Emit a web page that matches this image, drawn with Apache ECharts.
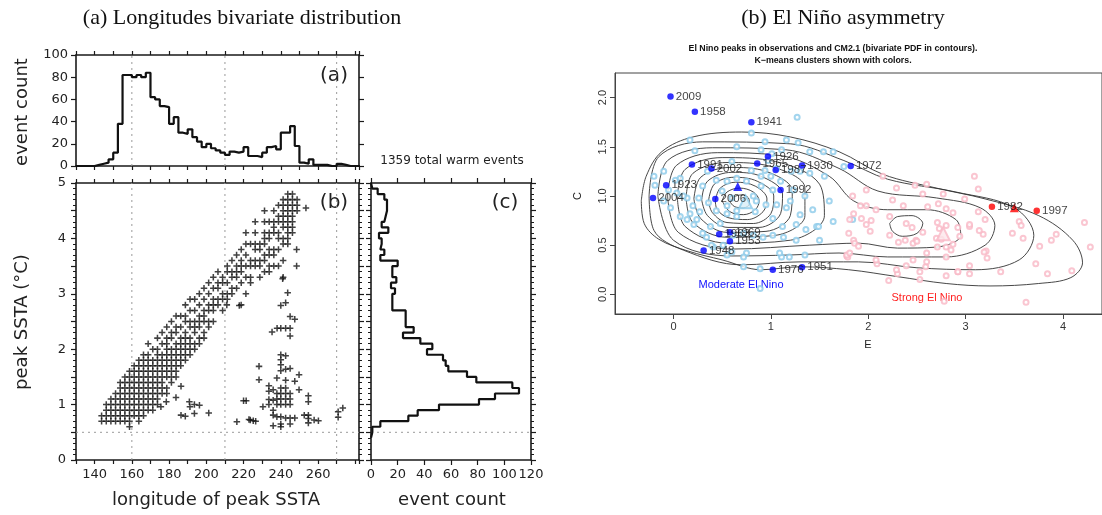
<!DOCTYPE html>
<html><head><meta charset="utf-8">
<script src="https://cdn.jsdelivr.net/npm/echarts@6/dist/echarts.min.js"></script>
<style>html,body{margin:0;padding:0;background:#fff}#c{width:1102px;height:515px}</style>
</head><body><div id="c"></div>
<script>
// ---------- (a) longitude histogram: 2.5 deg bins starting at 132.5E ----------
const lonBinStart = 132.5, lonBinWidth = 2.5;
const lonCounts = [0,0,0,1,2,3,6,12,38,82,82,80,82,80,84,62,60,54,53,38,44,30,29,33,26,22,17,20,16,14,12,10,13,12,13,17,9,9,8,12,17,18,15,30,30,36,18,3,2,6,1,1,1,0,0,2,1,0,0,0];
const lonTickLabels = [140,160,180,200,220,240,260];
const refLons = [160,210,270];
const refSSTA = 0.5;
// ---------- (c) peak SSTA histogram: 0.1 degC bins from 5.0 downward ----------
const sstaBinTop = 5.0, sstaBinWidth = 0.1;
const sstaCounts = [1,5,10,12,12,11,10,8,13,6,8,7,10,7,20,16,16,19,15,18,16,16,16,26,26,26,32,24,37,46,42,54,56,58,72,79,106,111,93,81,51,35,28,7,1,0];
// ---------- (b) scatter: columns on the 2.5-deg bin centres [binIndex, SSTA values] ----------
const peakColumns = [
 [4,[0.7,0.8]],[5,[0.7,0.8,0.9,1.0]],[6,[0.7,0.8,0.9,1.0,1.1]],[7,[0.7,0.8,0.9,1.0,1.1,1.2]],
 [8,[0.7,0.8,0.9,1.0,1.1,1.2,1.3,1.4]],[9,[0.7,0.8,0.9,1.0,1.1,1.2,1.3,1.4,1.5]],
 [10,[0.6,0.7,0.8,0.9,1.0,1.1,1.2,1.3,1.4,1.5,1.6]],[11,[0.8,0.9,1.0,1.1,1.2,1.3,1.4,1.5,1.6,1.7]],
 [12,[0.7,0.8,0.9,1.0,1.1,1.2,1.3,1.4,1.5,1.6,1.7,1.8]],[13,[0.8,0.9,1.0,1.1,1.2,1.3,1.4,1.5,1.6,1.7,1.8,1.9]],
 [14,[0.9,1.0,1.1,1.2,1.3,1.4,1.5,1.6,1.7,1.8,1.9,2.1]],[15,[0.9,1.0,1.1,1.2,1.3,1.4,1.5,1.6,1.7,1.8,2.0]],
 [16,[1.0,1.1,1.2,1.3,1.4,1.5,1.6,1.7,1.8,1.9,2.0,2.2]],[17,[1.2,1.3,1.4,1.5,1.6,1.7,1.8,1.9,2.1,2.3]],
 [18,[1.2,1.3,1.5,1.6,1.7,1.8,1.9,2.0,2.1,2.2,2.4]],[19,[1.4,1.5,1.6,1.7,1.8,1.9,2.0,2.2,2.3,2.5]],
 [20,[1.5,1.6,1.7,1.8,1.9,2.0,2.1,2.3,2.4,2.6]],[21,[1.7,1.8,1.9,2.0,2.1,2.2,2.4,2.6]],
 [22,[1.8,1.9,2.0,2.1,2.2,2.3,2.5,2.6,2.8]],[23,[1.9,2.0,2.1,2.2,2.4,2.5,2.7,2.9]],
 [24,[2.0,2.1,2.3,2.4,2.5,2.7,2.9]],[25,[2.1,2.2,2.4,2.5,2.6,2.8,3.0]],
 [26,[2.2,2.3,2.5,2.6,2.7,2.9,3.1]],[27,[2.4,2.5,2.7,2.8,3.0,3.2]],
 [28,[2.5,2.7,2.8,2.9,3.1,3.3]],[29,[2.8,2.9,3.1,3.2,3.4]],
 [30,[2.7,2.9,3.0,3.2,3.3]],[31,[2.9,3.0,3.2,3.4,3.5]],
 [32,[3.0,3.1,3.3,3.4,3.6]],[33,[3.1,3.3,3.4,3.5,3.7]],
 [34,[3.2,3.4,3.5,3.6,3.8]],[35,[3.0,3.3,3.5,3.7,3.9,4.1]],
 [36,[3.2,3.3,3.5,3.6,3.9]],[37,[3.5,3.6,3.8,3.9,4.1,4.3]],
 [38,[3.3,3.5,3.6,3.8,3.9]],[39,[3.4,3.6,3.7,3.9,4.0,4.1,4.3,4.5]],
 [40,[3.4,3.5,3.7,3.8,4.0,4.1,4.3]],[41,[3.5,3.7,3.8,4.1,4.2,4.3,4.5]],
 [42,[3.5,3.8,4.0,4.1,4.3,4.4,4.6]],[43,[3.3,3.6,3.9,4.0,4.2,4.3,4.4,4.5,4.6,4.7]],
 [44,[3.9,4.0,4.1,4.2,4.3,4.4,4.5,4.6,4.7,4.8]],[45,[4.1,4.2,4.3,4.4,4.5,4.6,4.7,4.8]],
 [46,[4.5,4.6,4.7]]
];
const peakOutliers = [
 [175.6,0.96],[183.7,1.13],[186.4,1.33],[190.9,1.05],[193.6,1.0],[196.3,0.99],[191.2,0.96],[186.4,0.81],[188.7,0.79],
 [193.6,0.84],[201.3,0.85],[216.4,0.69],[221.4,1.07],[223.6,0.72],[226.5,0.70],[228.3,1.69],[228.3,1.45],[178.5,1.05],
 [211,2.8],[218.7,2.8],[217.7,2.79],[240.0,2.79],[242.6,2.84],[245,2.59],[247.5,2.54],[238,2.38],[240,2.38],[242.6,2.38],
 [245,2.38],[235.3,2.31],[245,2.24],[240,1.9],[242.6,1.88],[240,1.81],[240,1.72],[240,1.61],[242.6,1.64],[245,1.65],
 [249.8,1.54],[237.9,1.48],[242.6,1.44],[247.5,1.42],[233.6,1.34],[235.9,1.27],[233.6,1.24],[240,1.3],[240,1.2],
 [240,1.1],[240,1.0],[242.6,1.3],[242.6,1.2],[242.6,1.1],[242.6,1.0],[245,1.2],[245,1.1],[245,1.0],[249.8,1.27],
 [237.9,1.2],[237.9,1.1],[237.9,1.0],[254.8,1.16],[254.8,1.05],[220,1.07],[230.4,0.96],[233.6,1.09],[233.6,1.0],
 [235.9,1.08],[235.9,0.9],[235.9,0.81],[237.9,0.78],[240,0.78],[242.6,0.76],[245,0.76],[247.5,0.76],[252.6,0.81],
 [254.8,0.81],[254.8,0.75],[257.9,0.72],[260.2,0.71],[254.8,0.67],[222.9,0.73],[225.2,0.71],[235.9,0.62],[240,0.6],
 [240,0.65],[245,0.65],[270.8,0.87],[273.3,0.94],[270.8,0.77],[253.5,4.55],[248.5,3.8],[248.5,3.5],[243.7,3.02],[241,3.27]
];
// ---------- (b) El Nino asymmetry ----------
const eTicks = [0,1,2,3,4];
const cTicks = [0,0.5,1,1.5,2];
const modYears = ['2009','1958','1941','1926','1965','1930','1987','1991','2002','1923','2004','2006','1992','1969','1963','1953','1948','1976','1951','1972'];
const modE = [-0.03,0.22,0.80,0.97,0.86,1.32,1.05,0.19,0.39,-0.075,-0.21,0.43,1.10,0.58,0.47,0.58,0.31,1.02,1.32,1.82];
const modC = [2.01,1.855,1.75,1.40,1.33,1.31,1.265,1.32,1.28,1.11,0.98,0.97,1.06,0.63,0.61,0.54,0.445,0.25,0.275,1.305];
const strongYears = ['1982','1997'];
const strongE = [3.27,3.73];
const strongC = [0.89,0.85];
const modCentroid = [0.66,1.095];
const strongCentroid = [3.50,0.88];
const modModelCentroid = [0.74,0.94];
const strongModelCentroid = [2.77,0.615];
const modModelPts = [[1.27,1.80],[0.80,1.64],[0.94,1.55],[1.16,1.57],[1.28,1.54],[0.17,1.57],[0.22,1.46],[0.65,1.5],[0.90,1.47],[1.01,1.43],[1.11,1.47],[1.40,1.45],[1.54,1.45],[1.64,1.45],[-0.20,1.20],[-0.10,1.25],[0.02,1.16],[0.07,1.18],[-0.19,1.11],[-0.05,1.06],[0.035,1.03],[0.14,0.98],[0.26,0.98],[0.36,0.93],[0.44,1.16],[0.55,1.15],[0.65,1.18],[0.75,1.15],[0.80,1.26],[0.94,1.26],[0.97,1.36],[1.06,1.28],[1.21,1.25],[1.30,1.25],[1.40,1.23],[1.23,1.06],[1.02,1.06],[0.90,1.10],[0.82,1.0],[0.95,0.91],[1.06,0.91],[1.16,0.88],[1.30,0.81],[1.43,0.86],[1.64,0.74],[1.84,0.76],[1.47,0.69],[1.36,0.66],[1.12,0.69],[1.02,0.77],[0.84,0.84],[0.65,0.79],[0.55,0.82],[0.44,0.85],[0.27,0.84],[0.17,0.82],[0.07,0.79],[-0.03,0.88],[0.10,1.0],[0.24,0.76],[0.38,0.69],[0.48,0.72],[0.61,0.60],[0.72,0.62],[0.82,0.60],[0.92,0.58],[1.02,0.60],[1.13,0.58],[1.26,0.55],[0.51,0.50],[0.41,0.48],[0.34,0.58],[0.72,0.28],[0.89,0.26],[1.11,0.38],[1.19,0.38],[1.35,0.40],[0.75,0.42],[0.55,0.40],[0.14,0.76],[0.21,0.71],[0.39,0.50],[0.60,0.43],[0.72,0.38],[0.89,0.06],[1.09,0.42],[1.49,0.69],[1.26,0.71],[0.5,1.05],[0.6,0.98],[0.55,0.9],[0.65,0.85],[0.85,0.95],[0.9,1.2],[0.3,1.1],[0.35,1.25],[0.6,1.35],[1.0,1.2],[1.1,1.15],[1.2,0.95],[1.35,1.0],[1.55,1.2],[1.6,0.95],[1.75,1.3],[1.5,0.55],[0.3,0.62],[0.2,0.9],[-0.1,0.95]];
const strongModelPts = [[2.15,1.20],[3.09,1.20],[3.13,1.07],[2.48,1.11],[2.60,1.12],[2.29,1.08],[1.98,1.06],[1.84,1.0],[2.56,1.02],[2.77,1.02],[2.99,0.97],[2.25,0.96],[1.92,0.90],[1.98,0.90],[2.36,0.90],[2.61,0.89],[2.72,0.92],[2.80,0.87],[2.87,0.83],[3.13,0.84],[3.20,0.76],[2.08,0.86],[1.81,0.76],[1.93,0.77],[2.03,0.75],[2.22,0.79],[1.85,0.82],[2.39,0.72],[2.45,0.68],[2.56,0.63],[2.71,0.73],[2.73,0.67],[2.80,0.70],[2.92,0.68],[3.04,0.69],[2.94,0.59],[3.18,0.61],[3.14,0.65],[3.55,0.74],[3.57,0.70],[3.59,0.57],[3.48,0.62],[3.76,0.49],[3.88,0.55],[3.93,0.61],[4.22,0.73],[4.28,0.48],[3.72,0.31],[3.84,0.21],[4.09,0.24],[3.62,-0.08],[3.36,0.23],[3.21,0.44],[3.04,0.29],[2.92,0.23],[2.80,0.19],[2.59,0.28],[2.46,0.35],[2.53,0.15],[2.39,0.29],[2.30,0.21],[2.21,0.14],[2.09,0.31],[1.78,0.39],[1.79,0.38],[2.22,0.60],[2.31,0.53],[2.49,0.55],[2.38,0.55],[2.80,0.48],[2.85,0.45],[2.71,0.48],[2.80,0.38],[2.60,0.42],[2.78,-0.07],[1.80,0.62],[1.85,0.55],[1.86,0.52],[1.90,0.49],[1.78,0.40],[1.81,0.42],[1.98,0.71],[2.02,0.64],[2.08,0.35],[2.29,0.25],[2.53,0.23],[2.60,0.33],[2.92,0.23],[3.04,0.21],[3.19,0.43],[3.22,0.37],[2.46,0.52],[2.50,0.54],[2.70,0.57],[2.75,0.56],[2.87,0.51],[3.04,0.71]];
// contour polylines (levels 0.05 ... 0.60)
const pdfContours = [
 [[-0.33,0.95],[-0.28,1.2],[-0.12,1.45],[0.2,1.6],[0.7,1.65],[1.2,1.6],[1.7,1.45],[2.15,1.22],[2.7,1.08],[3.2,0.97],[3.75,0.8],[4.1,0.55],[4.2,0.32],[4.08,0.17],[3.75,0.11],[3.25,0.085],[2.8,0.11],[2.3,0.18],[1.8,0.25],[1.3,0.28],[0.9,0.25],[0.5,0.35],[0.15,0.44],[-0.15,0.56],[-0.3,0.72],[-0.33,0.95]],
 [[-0.25,1.0],[-0.15,1.4],[0.3,1.55],[1.2,1.53],[1.75,1.36],[2.2,1.17],[2.9,1.04],[3.5,0.88],[3.7,0.6],[3.55,0.35],[3.1,0.25],[2.5,0.27],[1.9,0.33],[1.3,0.33],[0.7,0.3],[0.1,0.45],[-0.2,0.65],[-0.25,1.0]],
 [[-0.16,1.0],[-0.06,1.36],[0.4,1.49],[1.15,1.47],[1.7,1.28],[2.1,1.05],[2.7,0.98],[3.15,0.88],[3.3,0.7],[3.2,0.5],[2.8,0.38],[2.2,0.38],[1.7,0.42],[1.2,0.4],[0.6,0.39],[0.0,0.55],[-0.16,1.0]],
 [[-0.06,1.0],[0.03,1.31],[0.45,1.44],[1.1,1.41],[1.6,1.2],[1.85,0.95],[2.2,0.86],[2.6,0.86],[2.9,0.76],[2.95,0.6],[2.7,0.48],[2.3,0.47],[1.9,0.52],[1.4,0.5],[0.6,0.46],[0.05,0.63],[-0.06,1.0]],
 [[0.04,0.99],[0.12,1.27],[0.5,1.39],[1.05,1.35],[1.5,1.12],[1.55,0.8],[1.2,0.55],[0.55,0.52],[0.12,0.69],[0.04,0.99]],
 [[2.22,0.72],[2.3,0.79],[2.45,0.8],[2.56,0.72],[2.5,0.62],[2.35,0.59],[2.25,0.64],[2.22,0.72]],
 [[0.13,0.98],[0.2,1.23],[0.55,1.34],[1.0,1.3],[1.35,1.08],[1.35,0.8],[1.05,0.6],[0.55,0.58],[0.2,0.73],[0.13,0.98]],
 [[0.21,0.97],[0.28,1.19],[0.58,1.29],[0.95,1.25],[1.22,1.05],[1.2,0.8],[0.95,0.64],[0.55,0.63],[0.28,0.77],[0.21,0.97]],
 [[0.29,0.96],[0.35,1.15],[0.6,1.24],[0.9,1.2],[1.12,1.02],[1.1,0.82],[0.88,0.68],[0.56,0.68],[0.35,0.8],[0.29,0.96]],
 [[0.36,0.95],[0.42,1.12],[0.62,1.19],[0.86,1.15],[1.03,1.0],[1.0,0.82],[0.82,0.72],[0.55,0.73],[0.4,0.83],[0.36,0.95]],
 [[0.43,0.95],[0.48,1.08],[0.64,1.14],[0.84,1.1],[0.96,0.97],[0.92,0.84],[0.76,0.76],[0.56,0.78],[0.45,0.86],[0.43,0.95]],
 [[0.5,0.95],[0.55,1.04],[0.68,1.08],[0.82,1.04],[0.88,0.95],[0.84,0.86],[0.72,0.81],[0.58,0.84],[0.5,0.95]],
 [[0.58,0.94],[0.62,0.99],[0.7,1.01],[0.77,0.98],[0.78,0.92],[0.72,0.88],[0.63,0.89],[0.58,0.94]]
];

// ---------- build ----------
const histA = [[130,0],[lonBinStart,0]];
lonCounts.forEach((c,i)=>{histA.push([lonBinStart+i*lonBinWidth,c]);histA.push([lonBinStart+(i+1)*lonBinWidth,c]);});
const histC = [[0,sstaBinTop]];
sstaCounts.forEach((c,i)=>{histC.push([c,sstaBinTop-i*sstaBinWidth]);histC.push([c,sstaBinTop-(i+1)*sstaBinWidth]);});
const scatterPts = [];
peakColumns.forEach(([k,ys])=>ys.forEach(y=>scatterPts.push([lonBinStart+(k+0.5)*lonBinWidth,y])));
peakOutliers.forEach(p=>scatterPts.push(p));

const ink = '#1a1a1a';
const tickFont = {fontFamily:'DejaVu Sans',fontSize:13,color:'#222'};
const lineAx = {show:true,onZero:false,lineStyle:{color:ink,width:1.6}};
function lonAxis(g,pos,lab){return {type:'value',gridIndex:g,position:pos,min:130,max:282,interval:10,
  axisLine:lineAx,axisTick:{show:true,inside:false,length:4,lineStyle:{color:ink,width:1.2}},
  axisLabel:{show:lab,margin:8,formatter:v=>lonTickLabels.includes(v)?String(v):'',...tickFont},splitLine:{show:false}};}
function cntAxis(g,pos,lab){return {type:'value',gridIndex:g,position:pos,min:0,max:120,interval:20,
  axisLine:lineAx,axisTick:{show:true,inside:false,length:5,lineStyle:{color:ink,width:1.2}},
  axisLabel:{show:lab,margin:8,...tickFont},splitLine:{show:false}};}
function sstaAxis(g,pos,lab){return {type:'value',gridIndex:g,position:pos,min:0,max:5,interval:0.5,
  axisLine:lineAx,axisTick:{show:true,inside:false,length:5,lineStyle:{color:ink,width:1.2}},
  minorTick:{show:true,splitNumber:5,length:3,lineStyle:{color:ink,width:1}},
  axisLabel:{show:lab,margin:10,formatter:v=>Number.isInteger(v)?String(v):'',...tickFont},splitLine:{show:false},minorSplitLine:{show:false}};}
function hAxis(g,pos,lab){return {type:'value',gridIndex:g,position:pos,min:0,max:100,interval:20,
  axisLine:lineAx,axisTick:{show:true,inside:false,length:5,lineStyle:{color:ink,width:1.2}},
  axisLabel:{show:lab,margin:8,...tickFont},splitLine:{show:false}};}
const rGrey = '#444';
const rFont = {fontFamily:'Liberation Sans',fontSize:11,color:'#333'};

const dotted = {color:'#9a9a9a',width:1,type:[2,4]};
const series = [];
refLons.forEach(l=>{
  series.push({type:'line',xAxisIndex:0,yAxisIndex:0,data:[[l,0],[l,100]],symbol:'none',lineStyle:dotted,silent:true,z:1});
  series.push({type:'line',xAxisIndex:2,yAxisIndex:2,data:[[l,0],[l,5]],symbol:'none',lineStyle:dotted,silent:true,z:1});
});
series.push({type:'line',xAxisIndex:2,yAxisIndex:2,data:[[130,refSSTA],[282,refSSTA]],symbol:'none',lineStyle:dotted,z:1});
series.push({type:'line',xAxisIndex:4,yAxisIndex:4,data:[[0,refSSTA],[120,refSSTA]],symbol:'none',lineStyle:dotted,z:1});
series.push({type:'line',xAxisIndex:0,yAxisIndex:0,data:histA,symbol:'none',lineStyle:{color:'#111',width:2.2},z:3});
series.push({type:'line',xAxisIndex:4,yAxisIndex:4,data:histC,symbol:'none',lineStyle:{color:'#111',width:2.2},z:3});
series.push({type:'scatter',xAxisIndex:2,yAxisIndex:2,data:scatterPts,symbol:'path://M2.3,0H3.7V2.3H6V3.7H3.7V6H2.3V3.7H0V2.3H2.3Z',symbolSize:6.5,
  itemStyle:{color:'#111'},z:3});
// right panel
pdfContours.forEach(c=>series.push({type:'line',xAxisIndex:6,yAxisIndex:6,data:c,symbol:'none',smooth:0.35,
  lineStyle:{color:'#333',width:0.9},z:2}));
series.push({type:'scatter',xAxisIndex:6,yAxisIndex:6,data:modModelPts,symbol:'emptyCircle',symbolSize:5,
  itemStyle:{color:'#8ccbea',borderWidth:1},z:3});
series.push({type:'scatter',xAxisIndex:6,yAxisIndex:6,data:strongModelPts,symbol:'emptyCircle',symbolSize:5,
  itemStyle:{color:'#f9b8c6',borderWidth:1},z:3});
series.push({type:'scatter',xAxisIndex:6,yAxisIndex:6,data:[modModelCentroid],symbol:'triangle',symbolSize:13,
  itemStyle:{color:'#d8eef8',borderColor:'#8ccbea',borderWidth:2},z:4});
series.push({type:'scatter',xAxisIndex:6,yAxisIndex:6,data:[strongModelCentroid],symbol:'triangle',symbolSize:13,
  itemStyle:{color:'#fde6ea',borderColor:'#f9b8c6',borderWidth:2},z:4});
const yrLabel = {show:true,position:'right',distance:2,formatter:p=>p.data[2],fontFamily:'Liberation Sans',fontSize:11.5,color:'#111'};
series.push({type:'scatter',xAxisIndex:6,yAxisIndex:6,data:modYears.map((y,i)=>[modE[i],modC[i],y]),symbol:'circle',symbolSize:6.5,
  itemStyle:{color:'#0000ff'},label:yrLabel,z:5});
series.push({type:'scatter',xAxisIndex:6,yAxisIndex:6,data:strongYears.map((y,i)=>[strongE[i],strongC[i],y]),symbol:'circle',symbolSize:6.5,
  itemStyle:{color:'#ff0000'},label:yrLabel,z:5});
series.push({type:'scatter',xAxisIndex:6,yAxisIndex:6,data:[modCentroid],symbol:'triangle',symbolSize:9,itemStyle:{color:'#0000ff'},z:5});
series.push({type:'scatter',xAxisIndex:6,yAxisIndex:6,data:[strongCentroid],symbol:'triangle',symbolSize:9,itemStyle:{color:'#ff0000'},z:5});

function txt(x,y,text,font,fill,opt){return Object.assign({type:'text',x:x,y:y,silent:true,
  style:{text:text,font:font,fill:fill||'#111',textAlign:'center',textVerticalAlign:'middle'}},opt||{});}
const graphic = [
  txt(242,18,'(a) Longitudes bivariate distribution','22px "Liberation Serif"','#111'),
  txt(843,18,'(b) El Niño asymmetry','22px "Liberation Serif"','#111'),
  txt(833,49,'El Nino peaks in observations and CM2.1 (bivariate PDF in contours).','bold 8.8px "Liberation Sans"','#111'),
  txt(833,61,'K\u2212means clusters shown with colors.','bold 8.8px "Liberation Sans"','#111'),
  txt(22,112,'event count','18px "DejaVu Sans"','#222',{rotation:Math.PI/2}),
  txt(22,322,'peak SSTA (\u00b0C)','18px "DejaVu Sans"','#222',{rotation:Math.PI/2}),
  txt(216,500,'longitude of peak SSTA','18px "DejaVu Sans"','#222'),
  txt(452,500,'event count','18px "DejaVu Sans"','#222'),
  txt(452,161,'1359 total warm events','12px "DejaVu Sans"','#222'),
  txt(334,76,'(a)','20px "DejaVu Sans"','#222'),
  txt(334,203,'(b)','20px "DejaVu Sans"','#222'),
  txt(505,203,'(c)','20px "DejaVu Sans"','#222'),
  txt(868,345,'E','11px "Liberation Sans"','#222'),
  txt(578,196,'C','11px "Liberation Sans"','#222',{rotation:Math.PI/2}),
  txt(741,285,'Moderate El Nino','11px "Liberation Sans"','#1010ff'),
  txt(927,298,'Strong El Nino','11px "Liberation Sans"','#ff2020')
];

const option = {
  animation:false,backgroundColor:'#fff',
  grid:[
    {left:76,top:55,width:283,height:111},
    {left:76,top:183,width:283,height:277},
    {left:371,top:183,width:160,height:277},
    {left:615,top:73,width:488,height:241,show:true,borderColor:rGrey,borderWidth:1}
  ],
  xAxis:[
    lonAxis(0,'bottom',false), lonAxis(0,'top',false),
    lonAxis(1,'bottom',true), lonAxis(1,'top',false),
    cntAxis(2,'bottom',true), cntAxis(2,'top',false),
    {type:'value',gridIndex:3,position:'bottom',min:-0.6,max:4.4,
     axisLine:{show:true,onZero:false,lineStyle:{color:rGrey}},
     axisTick:{show:true,customValues:eTicks,length:5,lineStyle:{color:rGrey}},
     axisLabel:{customValues:eTicks,margin:7,...rFont},splitLine:{show:false}}
  ],
  yAxis:[
    hAxis(0,'left',true), hAxis(0,'right',false),
    sstaAxis(1,'left',true), sstaAxis(1,'right',false),
    sstaAxis(2,'left',false), sstaAxis(2,'right',false),
    {type:'value',gridIndex:3,position:'left',min:-0.2,max:2.25,
     axisLine:{show:true,onZero:false,lineStyle:{color:rGrey}},
     axisTick:{show:true,customValues:cTicks,length:5,lineStyle:{color:rGrey}},
     axisLabel:{customValues:cTicks,rotate:90,margin:7,formatter:v=>v.toFixed(1),...rFont},splitLine:{show:false}}
  ],
  series:series,
  graphic:graphic
};
const chart = echarts.init(document.getElementById('c'),null,{renderer:'canvas'});
chart.setOption(option);
</script></body></html>
